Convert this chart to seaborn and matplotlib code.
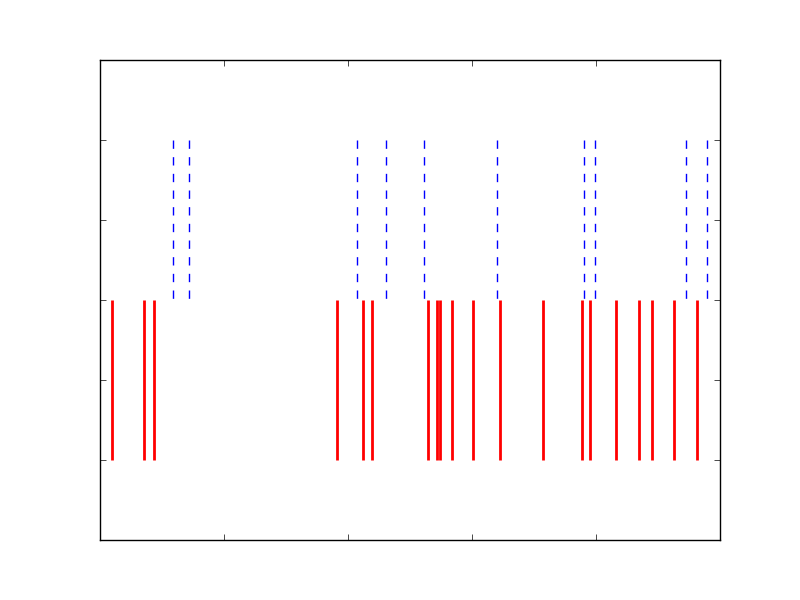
import numpy as np
import seaborn as sns
import matplotlib
matplotlib.use("Agg")
import matplotlib.pyplot as plt

# event positions
red_events = [0.020, 0.071, 0.087, 0.382, 0.424, 0.438, 0.529, 0.543, 0.548, 0.568,
              0.602, 0.645, 0.715, 0.778, 0.791, 0.833, 0.870, 0.891, 0.925, 0.963]
blue_events = [0.118, 0.143, 0.415, 0.461, 0.522, 0.640, 0.780, 0.798, 0.945, 0.979]

sns.set_theme(style="white", rc={
    "xtick.direction": "in", "ytick.direction": "in",
    "xtick.top": True, "ytick.right": True,
    "xtick.bottom": True, "ytick.left": True,
    "xtick.major.size": 4, "ytick.major.size": 4,
    "xtick.major.width": 0.5, "ytick.major.width": 0.5,
    "xtick.color": "black", "ytick.color": "black",
    "axes.edgecolor": "black", "axes.linewidth": 1.0,
})

fig = plt.figure(figsize=(8, 6), dpi=100)
ax = fig.add_axes([0.125, 0.1, 0.775, 0.8])

ax.eventplot(red_events, colors="red", lineoffsets=1, linelengths=2,
             linewidths=2, linestyles="solid")
ax.eventplot(blue_events, colors="blue", lineoffsets=3, linelengths=2,
             linewidths=1, linestyles=[(0, (6, 6))])

ax.set_xlim(0, 1)
ax.set_ylim(-1, 5)
ax.set_xticks(np.linspace(0, 1, 6))
ax.set_yticks(range(-1, 6))
ax.set_xticklabels([])
ax.set_yticklabels([])

fig.savefig("out.png", dpi=100)
